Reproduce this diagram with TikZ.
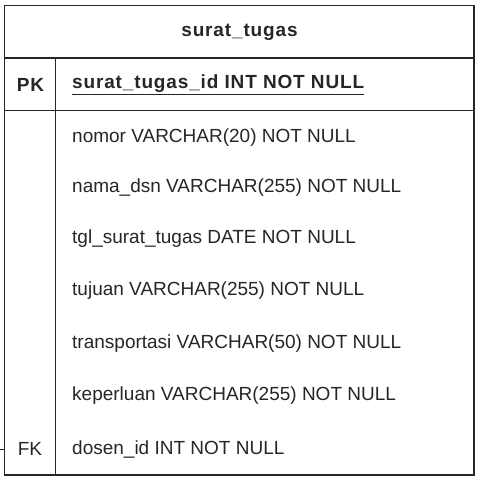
\documentclass[tikz,border=0pt]{standalone}
\usepackage{fontspec}
\setmainfont{Liberation Sans}
\begin{document}
\begin{tikzpicture}[x=1pt,y=-1pt,
  frame/.style={draw=black!85,line width=1.1pt},
  sep/.style={draw=black!85,line width=1.1pt},
  txt/.style={text=black!85,font=\fontsize{19}{22}\selectfont,inner sep=0pt},
  boldtxt/.style={txt,font=\fontsize{19}{22}\selectfont\bfseries\addfontfeatures{LetterSpace=4.5}},
  field/.style={txt,anchor=west},
  key/.style={txt,anchor=center}]
\useasboundingbox (0,0) rectangle (482,480);
% table outline and separators
\draw[frame] (4.5,5.5) rectangle (474,475);
\draw[sep] (4.5,58) -- (474,58);
\draw[sep] (4.5,110.5) -- (474,110.5);
\draw[sep] (55.5,58) -- (55.5,475);
% title
\node[boldtxt] (title) at (239.5,32) {surat\_tugas};
% primary key row
\node[key,boldtxt] (pk) at (30.5,84.5) {PK};
\node[field,boldtxt] (pkf) at (72,84.5) {\underline{surat\_tugas\_id INT NOT NULL}};
% attribute rows
\node[field] (f1) at (72,138) {nomor VARCHAR(20) NOT NULL};
\node[field] (f2) at (72,188) {nama\_dsn VARCHAR(255) NOT NULL};
\node[field] (f3) at (72,239) {tgl\_surat\_tugas DATE NOT NULL};
\node[field] (f4) at (72,291) {tujuan VARCHAR(255) NOT NULL};
\node[field] (f5) at (72,344) {transportasi VARCHAR(50) NOT NULL};
\node[field] (f6) at (72,396) {keperluan VARCHAR(255) NOT NULL};
\node[key] (fk) at (30,449) {FK};
\node[field] (f7) at (72,449) {dosen\_id INT NOT NULL};
% incoming relation stub
\coordinate (relin) at (0,449);
\coordinate (relend) at (4.5,449);
\draw[black!85,line width=1pt] (relin) -- (relend);
\end{tikzpicture}
\end{document}
